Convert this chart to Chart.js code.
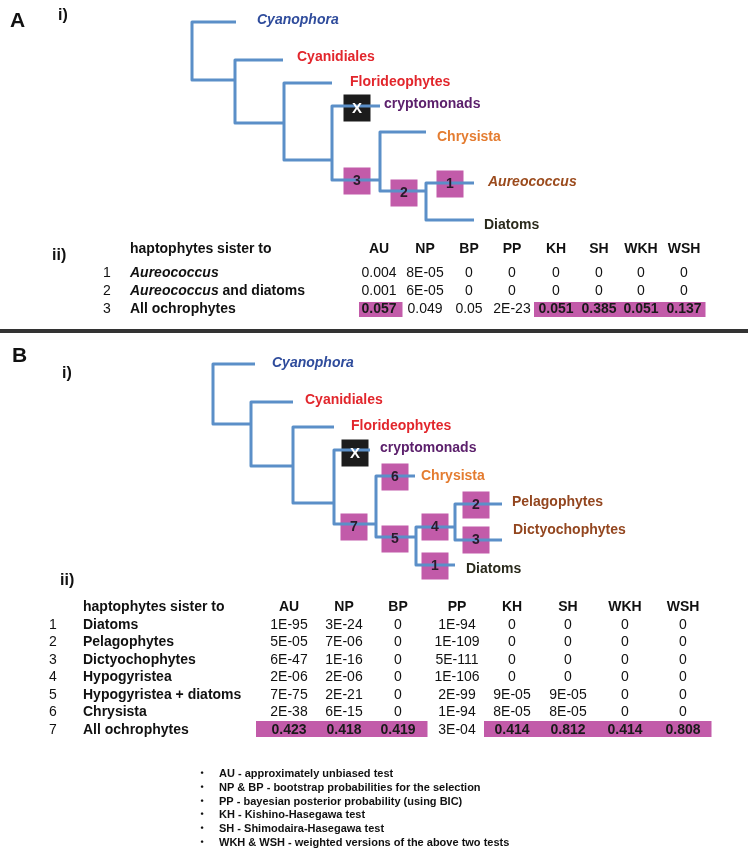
<!DOCTYPE html>
<html><head><meta charset="utf-8">
<script src="https://cdn.jsdelivr.net/npm/chart.js@4.4.1/dist/chart.umd.min.js"></script>
<style>html,body{margin:0;padding:0;background:#fff;}#wrap{width:750px;height:866px;}canvas{display:block}</style>
</head><body>
<div id="wrap"><canvas id="c" width="750" height="866"></canvas></div>
<script>
// ================= DATA =================
const testNames = ['AU','NP','BP','PP','KH','SH','WKH','WSH'];

// Panel A table
const sisterA = ['Aureococcus','Aureococcus and diatoms','All ochrophytes'];
const A_AU  = ['0.004','0.001','0.057'];
const A_NP  = ['8E-05','6E-05','0.049'];
const A_BP  = ['0','0','0.05'];
const A_PP  = ['0','0','2E-23'];
const A_KH  = ['0','0','0.051'];
const A_SH  = ['0','0','0.385'];
const A_WKH = ['0','0','0.051'];
const A_WSH = ['0','0','0.137'];

// Panel B table
const sisterB = ['Diatoms','Pelagophytes','Dictyochophytes','Hypogyristea','Hypogyristea + diatoms','Chrysista','All ochrophytes'];
const B_AU  = ['1E-95','5E-05','6E-47','2E-06','7E-75','2E-38','0.423'];
const B_NP  = ['3E-24','7E-06','1E-16','2E-06','2E-21','6E-15','0.418'];
const B_BP  = ['0','0','0','0','0','0','0.419'];
const B_PP  = ['1E-94','1E-109','5E-111','1E-106','2E-99','1E-94','3E-04'];
const B_KH  = ['0','0','0','0','9E-05','8E-05','0.414'];
const B_SH  = ['0','0','0','0','9E-05','8E-05','0.812'];
const B_WKH = ['0','0','0','0','0','0','0.414'];
const B_WSH = ['0','0','0','0','0','0','0.808'];

// Tree topology: [parent, child1, child2]
const cladesA = [
  ['rA','Cyanophora','nA1'], ['nA1','Cyanidiales','nA2'], ['nA2','Florideophytes','nA3'],
  ['nA3','cryptomonads','nA4'], ['nA4','Chrysista','nA5'], ['nA5','Aureococcus','Diatoms']
];
const cladesB = [
  ['rB','Cyanophora','nB1'], ['nB1','Cyanidiales','nB2'], ['nB2','Florideophytes','nB3'],
  ['nB3','cryptomonads','nB4'], ['nB4','Chrysista','nB5'], ['nB5','nB6','Diatoms'],
  ['nB6','Pelagophytes','Dictyochophytes']
];
// Tested placements (box label, branch)
const boxesA = [['X','cryptomonads'],['3','nA4'],['2','nA5'],['1','Aureococcus']];
const boxesB = [['X','cryptomonads'],['7','nB4'],['6','Chrysista'],['5','nB5'],['4','nB6'],['1','Diatoms'],['2','Pelagophytes'],['3','Dictyochophytes']];

const legendItems = [
  'AU - approximately unbiased test',
  'NP & BP - bootstrap probabilities for the selection',
  'PP - bayesian posterior probability (using BIC)',
  'KH - Kishino-Hasegawa test',
  'SH - Shimodaira-Hasegawa test',
  'WKH & WSH - weighted versions of the above two tests'
];

// ================= LAYOUT (positions / styles) =================
const POS = {
  rA:[192,null], Cyanophora_A:[236,22], nA1:[235,80], Cyanidiales_A:[283,60], nA2:[284,123],
  Florideophytes_A:[332,83], nA3:[332,160], cryptomonads_A:[380,106], nA4:[380,180],
  Chrysista_A:[426,132], nA5:[426,191], Aureococcus_A:[474,183], Diatoms_A:[474,220],
  rB:[213,null], Cyanophora_B:[255,364], nB1:[251,424], Cyanidiales_B:[293,402], nB2:[293,466],
  Florideophytes_B:[334,427], nB3:[334,503], cryptomonads_B:[370,450], nB4:[376,524],
  Chrysista_B:[415,476], nB5:[416,537], nB6:[455,527], Diatoms_B:[455,565],
  Pelagophytes_B:[502,504], Dictyochophytes_B:[502,540]
};
const BOXPOS_A = {X:[357,108],'3':[357,181],'2':[404,193],'1':[450,184]};
const BOXPOS_B = {X:[355,453],'7':[354,527],'6':[395,477],'5':[395,539],'4':[435,527],'1':[435,566],'2':[476,505],'3':[476,540]};
const LABEL_A = {Cyanophora:[257,20],Cyanidiales:[297,57],Florideophytes:[350,82],cryptomonads:[384,104],Chrysista:[437,137],Aureococcus:[488,182],Diatoms:[484,225]};
const LABEL_B = {Cyanophora:[272,363],Cyanidiales:[305,400],Florideophytes:[351,426],cryptomonads:[380,448],Chrysista:[421,476],Pelagophytes:[512,502],Dictyochophytes:[513,530],Diatoms:[466,569]};
const TAXON_STYLE = {
  Cyanophora:{c:'#2f4c9c',i:true}, Cyanidiales:{c:'#e2262c'}, Florideophytes:{c:'#e2262c'},
  cryptomonads:{c:'#5c206c'}, Chrysista:{c:'#e47c30'}, Aureococcus:{c:'#9b4b1d',i:true},
  Pelagophytes:{c:'#93461f'}, Dictyochophytes:{c:'#93461f'}, Diatoms:{c:'#2a2a1c'}
};
const LINE_COLOR = '#5b8fc8', BOX_PINK = '#c25ba9', BOX_BLACK = '#1c1c1c';
const FONT = '"Liberation Sans", Arial, Helvetica, sans-serif';

function pos(id, suffix){ return POS[id] || POS[id + '_' + suffix]; }
function cladePaths(clades, suffix){
  const pts = [];
  clades.forEach(([p,c1,c2]) => {
    const P = pos(p,suffix), C1 = pos(c1,suffix), C2 = pos(c2,suffix);
    pts.push({x:C1[0],y:C1[1]},{x:P[0],y:C1[1]},{x:P[0],y:C2[1]},{x:C2[0],y:C2[1]},{x:C2[0],y:null});
  });
  return pts;
}
function boxPoints(boxes, bp){
  return boxes.map(([lab]) => ({x:bp[lab][0], y:bp[lab][1], lab}));
}

// ================= TABLE SPEC =================
const tableA = {
  names: sisterA, cols:[A_AU,A_NP,A_BP,A_PP,A_KH,A_SH,A_WKH,A_WSH],
  colX:[379,425,469,512,556,599,641,684], edges:[359,402,447,490,534,577,620,662,705],
  headY:249, rowY:[273,291,309], numX:107, nameX:130, size:14, sx:1, hl:[302,317]
};
const tableB = {
  names: sisterB, cols:[B_AU,B_NP,B_BP,B_PP,B_KH,B_SH,B_WKH,B_WSH],
  colX:[289,344,398,457,512,568,625,683], edges:[256,316,371,427,484,540,596,654,711],
  headY:607, rowY:[625,642,660,677,695,712,730], numX:53, nameX:83, size:14, sx:1, hl:[721,737]
};

function txt(ctx, s, x, y, o){
  ctx.save();
  ctx.font = (o.italic?'italic ':'') + (o.bold?'bold ':'') + o.size + 'px ' + FONT;
  ctx.fillStyle = o.color || '#111';
  ctx.textBaseline = 'middle';
  ctx.textAlign = 'left';
  const sx = o.sx || 1;
  const w = ctx.measureText(s).width * sx;
  let left = x;
  if (o.align === 'center') left = x - w/2; else if (o.align === 'right') left = x - w;
  ctx.translate(left, y); ctx.scale(sx, 1);
  ctx.fillText(s, 0, 0);
  ctx.restore();
  return w;
}

const overlay = {
  id:'overlay',
  afterDatasetsDraw(chart){
    const ctx = chart.ctx, X = v => chart.scales.x.getPixelForValue(v), Y = v => chart.scales.y.getPixelForValue(v);
    // box labels
    chart.data.datasets.forEach(ds => {
      if (!ds.isBoxes) return;
      ds.data.forEach(p => {
        txt(ctx, p.lab, X(p.x), Y(p.y)+0.5, {bold:true,size:p.lab==='X'?15:14,color:p.lab==='X'?'#fff':'#2b1a2b',align:'center'});
      });
    });
    // taxon labels
    const drawLabels = (L) => Object.keys(L).forEach(k => {
      const st = TAXON_STYLE[k];
      txt(ctx, k, X(L[k][0]), Y(L[k][1]), {bold:true,italic:!!st.i,size:14,color:st.c});
    });
    drawLabels(LABEL_A); drawLabels(LABEL_B);

    // panel letters
    txt(ctx,'A',X(10),Y(21),{bold:true,size:21,color:'#111'});
    txt(ctx,'i)',X(58),Y(16),{bold:true,size:16,color:'#111'});
    txt(ctx,'ii)',X(52),Y(256),{bold:true,size:16,color:'#111'});
    txt(ctx,'B',X(12),Y(356),{bold:true,size:21,color:'#111'});
    txt(ctx,'i)',X(62),Y(374),{bold:true,size:16,color:'#111'});
    txt(ctx,'ii)',X(60),Y(581),{bold:true,size:16,color:'#111'});

    // divider
    ctx.save(); ctx.fillStyle='#333'; ctx.fillRect(X(0),Y(329),X(748)-X(0),4); ctx.restore();

    // tables
    [tableA, tableB].forEach((T, ti) => {
      // highlights: p > 0.05
      ctx.save(); ctx.fillStyle = BOX_PINK;
      T.names.forEach((n, r) => {
        T.cols.forEach((col, c) => {
          if (parseFloat(col[r]) > 0.05) {
            ctx.fillRect(X(T.edges[c]), Y(T.hl[0]), X(T.edges[c+1]) - X(T.edges[c]) + 0.5, Y(T.hl[1]) - Y(T.hl[0]));
          }
        });
      });
      ctx.restore();
      const base = {size:T.size, sx:T.sx, color:'#111'};
      txt(ctx,'haptophytes sister to',X(T.nameX),Y(T.headY),{...base,bold:true});
      testNames.forEach((h,c) => txt(ctx,h,X(T.colX[c]),Y(T.headY),{...base,bold:true,align:'center'}));
      T.names.forEach((n, r) => {
        const y = Y(T.rowY[r]);
        txt(ctx,String(r+1),X(T.numX),y,{...base,align:'center'});
        if (ti === 0 && n.startsWith('Aureococcus')) {
          const w = txt(ctx,'Aureococcus',X(T.nameX),y,{...base,bold:true,italic:true});
          const rest = n.slice('Aureococcus'.length);
          if (rest) txt(ctx,rest,X(T.nameX)+w,y,{...base,bold:true});
        } else {
          txt(ctx,n,X(T.nameX),y,{...base,bold:true});
        }
        T.cols.forEach((col,c) => {
          const hi = parseFloat(col[r]) > 0.05;
          txt(ctx,col[r],X(T.colX[c]),y,{...base,bold:hi,align:'center',color: hi?'#1a1a1a':'#111'});
        });
      });
    });

    // legend
    const ly = [774,788,802,815,829,843];
    legendItems.forEach((s,i) => {
      txt(ctx,'\u2022',X(202),Y(ly[i]),{bold:true,size:9,color:'#111',align:'center'});
      txt(ctx,s,X(219),Y(ly[i]),{bold:true,size:11,color:'#111'});
    });
  }
};

const lineDs = (data) => ({type:'scatter', data, showLine:true, spanGaps:false, borderColor:LINE_COLOR, borderWidth:3,
  pointRadius:0, borderJoinStyle:'round', borderCapStyle:'butt', tension:0, clip:false});
const boxDs = (data) => ({type:'scatter', data, isBoxes:true, pointStyle:'rect', pointRadius:19.1, borderWidth:0,
  backgroundColor:data.map(p => p.lab==='X'?BOX_BLACK:BOX_PINK), clip:false});

new Chart(document.getElementById('c'), {
  type:'scatter',
  data:{datasets:[
    lineDs(cladePaths(cladesA,'A')), lineDs(cladePaths(cladesB,'B')),
    boxDs(boxPoints(boxesA,BOXPOS_A)), boxDs(boxPoints(boxesB,BOXPOS_B))
  ]},
  options:{
    responsive:false, animation:false, events:[],
    layout:{padding:0, autoPadding:false},
    plugins:{legend:{display:false},tooltip:{enabled:false}},
    scales:{
      x:{type:'linear',min:0,max:750,display:false},
      y:{type:'linear',min:0,max:866,reverse:true,display:false}
    }
  },
  plugins:[overlay]
});
</script>
</body></html>
